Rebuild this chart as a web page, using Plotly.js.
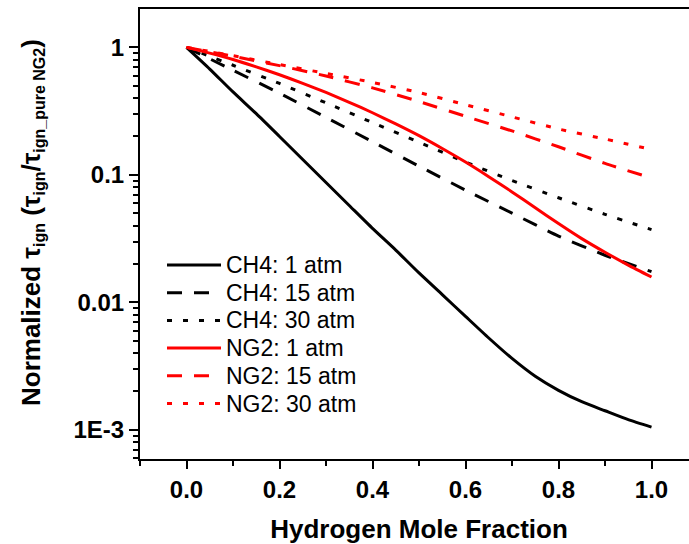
<!DOCTYPE html>
<html>
<head>
<meta charset="utf-8">
<script src="https://cdn.plot.ly/plotly-3.0.1.min.js"></script>
<style>
  html, body { margin: 0; padding: 0; overflow: hidden; background: #fff; }
  #chart { width: 720px; height: 544px; }
</style>
</head>
<body>
<div id="chart"></div>
<script>
// Hydrogen mole fraction
const hydrogenFraction = [0, 0.1, 0.2, 0.3, 0.4, 0.5, 0.6, 0.7, 0.8, 0.9, 1.0];
const hydrogenFractionFine = [0, 0.05, 0.1, 0.15, 0.2, 0.25, 0.3, 0.35, 0.4, 0.45, 0.5,
                              0.55, 0.6, 0.65, 0.7, 0.75, 0.8, 0.85, 0.9, 0.95, 1.0];

// Normalized ignition delay
const ch4_1atm  = [1, 0.676, 0.447, 0.302, 0.200, 0.132, 0.0871, 0.0575, 0.0380, 0.0257, 0.0170,
                   0.0115, 0.00776, 0.00525, 0.00363, 0.00263, 0.00204, 0.00166, 0.00141, 0.00120, 0.00105];
const ch4_15atm = [1, 0.661, 0.437, 0.282, 0.182, 0.117, 0.0759, 0.0501, 0.0331, 0.0234, 0.0174];
const ch4_30atm = [1, 0.724, 0.521, 0.367, 0.257, 0.180, 0.126, 0.0902, 0.0661, 0.0490, 0.0372];
const ng2_1atm  = [1, 0.902, 0.804, 0.703, 0.610, 0.522, 0.443, 0.371, 0.307, 0.251, 0.203,
                   0.161, 0.126, 0.0968, 0.0735, 0.0552, 0.0415, 0.0316, 0.0247, 0.0196, 0.0158];
const ng2_15atm = [1, 0.851, 0.719, 0.596, 0.481, 0.376, 0.288, 0.221, 0.166, 0.123, 0.0944];
const ng2_30atm = [1, 0.861, 0.733, 0.624, 0.531, 0.442, 0.355, 0.285, 0.229, 0.191, 0.158];

const seriesNames = ["CH4: 1 atm", "CH4: 15 atm", "CH4: 30 atm", "NG2: 1 atm", "NG2: 15 atm", "NG2: 30 atm"];
const seriesX = [hydrogenFractionFine, hydrogenFraction, hydrogenFraction, hydrogenFractionFine, hydrogenFraction, hydrogenFraction];
const seriesValues = [ch4_1atm, ch4_15atm, ch4_30atm, ng2_1atm, ng2_15atm, ng2_30atm];

const xTickVals = [0, 0.2, 0.4, 0.6, 0.8, 1.0];
const xTickText = ["0.0", "0.2", "0.4", "0.6", "0.8", "1.0"];
const yTickVals = [0.001, 0.01, 0.1, 1];
const yTickText = ["1E-3", "0.01", "0.1", "1"];

// styles
const colors = ["#000000", "#000000", "#000000", "#ff0000", "#ff0000", "#ff0000"];
const dashes = ["solid", "15px,12px", "5px,11px", "solid", "15px,12px", "5px,11px"];
const FONT = "Arial, Liberation Sans, sans-serif";

const W = 720, H = 544;
const M = { l: 140, r: 22, t: 9, b: 85 };
const plotW = W - M.l - M.r, plotH = H - M.t - M.b;
const pxX = p => (p - M.l) / plotW;
const pxY = p => 1 - (p - M.t) / plotH;

const traces = seriesValues.map((vals, i) => ({
  x: seriesX[i],
  y: vals,
  name: seriesNames[i],
  type: "scatter",
  mode: "lines",
  line: { color: colors[i], width: 3, dash: dashes[i], shape: "spline", smoothing: 0.6 },
  showlegend: false
}));

// minor ticks on the log axis (2..9 per decade)
const yMinor = [];
for (let d = -4; d <= 0; d++) {
  for (let k = 2; k <= 9; k++) {
    const v = k * Math.pow(10, d);
    if (v > 5.9e-4 && v < 2) yMinor.push(v);
  }
}

// manual legend (long line samples as in the original)
const legLeft = 167, legRight = 221, legTextX = 224, legTop = 265, legStep = 27.7;
const shapes = [];
const annotations = [];
seriesNames.forEach((name, i) => {
  const yc = legTop + i * legStep;
  shapes.push({
    type: "line", xref: "paper", yref: "paper",
    x0: pxX(legLeft), x1: pxX(legRight), y0: pxY(yc), y1: pxY(yc),
    line: { color: colors[i], width: 3, dash: dashes[i] }
  });
  annotations.push({
    xref: "paper", yref: "paper", x: pxX(legTextX), y: pxY(yc),
    xanchor: "left", yanchor: "middle", showarrow: false,
    text: name, font: { family: FONT, size: 23, color: "#000" }
  });
});

// y-axis title
const subSize = "font-size:16px";
annotations.push({
  xref: "paper", yref: "paper", x: pxX(32), y: pxY(223),
  xanchor: "center", yanchor: "middle", showarrow: false, textangle: -90,
  text: "Normalized τ<sub><span style='" + subSize + "'>ign</span></sub> (τ<sub><span style='" + subSize + "'>ign</span></sub>/τ<sub><span style='" + subSize + "'>ign_pure NG2</span></sub>)",
  font: { family: FONT, size: 26, weight: "bold", color: "#000" }
});

const layout = {
  width: W, height: H,
  margin: M,
  paper_bgcolor: "#fff", plot_bgcolor: "#fff",
  showlegend: false,
  font: { family: FONT, color: "#000" },
  xaxis: {
    range: [-0.1, 1.1],
    tickmode: "array", tickvals: xTickVals, ticktext: xTickText,
    ticks: "outside", ticklen: 8, tickwidth: 2, tickcolor: "#000",
    minor: { dtick: 0.1, tick0: 0, ticks: "outside", ticklen: 5, tickwidth: 2, tickcolor: "#000", showgrid: false },
    showline: true, linewidth: 2, linecolor: "#000", mirror: true,
    showgrid: false, zeroline: false,
    tickfont: { family: FONT, size: 24, weight: "bold", color: "#000" },
    title: { text: "Hydrogen Mole Fraction", font: { family: FONT, size: 26, weight: "bold", color: "#000" }, standoff: 18 }
  },
  yaxis: {
    type: "log",
    range: [Math.log10(5.9e-4), Math.log10(2)],
    tickmode: "array", tickvals: yTickVals, ticktext: yTickText,
    ticks: "outside", ticklen: 9, tickwidth: 2, tickcolor: "#000",
    minor: { tickmode: "array", tickvals: yMinor, ticks: "outside", ticklen: 5, tickwidth: 2, tickcolor: "#000", showgrid: false },
    showline: true, linewidth: 2, linecolor: "#000", mirror: true,
    showgrid: false, zeroline: false,
    tickfont: { family: FONT, size: 24, weight: "bold", color: "#000" }
  },
  shapes: shapes,
  annotations: annotations
};

Plotly.newPlot("chart", traces, layout, { staticPlot: true, displayModeBar: false });
</script>
</body>
</html>
